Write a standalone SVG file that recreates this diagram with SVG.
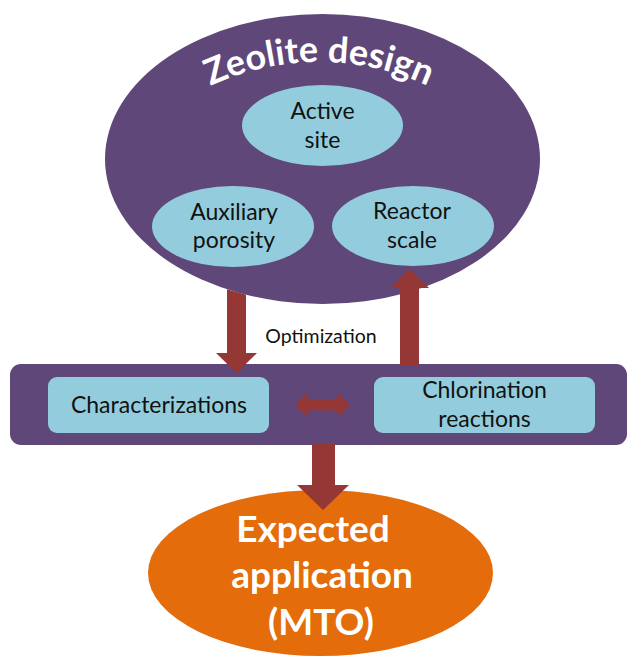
<svg xmlns="http://www.w3.org/2000/svg" width="627" height="660" viewBox="0 0 627 660">
<style>
.purple{fill:#5F4779}
.blue{fill:#93CDDD}
.arrow{fill:#953735}
.lbl{font-family:Lato,"Open Sans",sans-serif;font-size:23px;fill:#111;text-anchor:middle}
.small{font-family:Lato,"Open Sans",sans-serif;font-size:19.5px;fill:#111;text-anchor:middle}
.title{font-family:Lato,"Open Sans",sans-serif;font-weight:bold;font-size:36px;fill:#fff}
.big{font-family:Lato,"Open Sans",sans-serif;font-weight:bold;font-size:37px;fill:#fff;text-anchor:middle}
</style>
<defs>
<path id="arc" d="M 139 134.4 A 260 260 0 0 1 499 134.4"/>
</defs>
<g id="process-bar">
<rect class="purple" x="10" y="364" width="617" height="81" rx="11"/>
</g>
<g id="characterizations">
<rect class="blue" x="48" y="377" width="221" height="56" rx="9"/>
<text class="lbl" x="159" y="413">Characterizations</text>
</g>
<g id="chlorination">
<rect class="blue" x="374" y="377" width="221" height="56" rx="9"/>
<text class="lbl" x="484.5" y="398">Chlorination</text>
<text class="lbl" x="484.5" y="427">reactions</text>
</g>
<g id="application">
<ellipse cx="320.5" cy="573" rx="172.5" ry="83" fill="#E46C0A"/>
<text class="big" x="313" y="542">Expected</text>
<text class="big" x="322" y="588">application</text>
<text class="big" x="321" y="635">(MTO)</text>
</g>
<g id="zeolite-design">
<ellipse class="purple" cx="322.5" cy="159" rx="217.5" ry="145"/>
<text class="title"><textPath href="#arc" startOffset="50%" text-anchor="middle">Zeolite design</textPath></text>
</g>
<g id="active-site">
<ellipse class="blue" cx="322.5" cy="125.5" rx="80.5" ry="40.5"/>
<text class="lbl" x="322.5" y="119">Active</text>
<text class="lbl" x="322.5" y="148">site</text>
</g>
<g id="auxiliary-porosity">
<ellipse class="blue" cx="233" cy="226.5" rx="81" ry="40.5"/>
<text class="lbl" x="234" y="220">Auxiliary</text>
<text class="lbl" x="234" y="248">porosity</text>
</g>
<g id="reactor-scale">
<ellipse class="blue" cx="413" cy="226" rx="81" ry="40"/>
<text class="lbl" x="412" y="219">Reactor</text>
<text class="lbl" x="412" y="248">scale</text>
</g>
<g id="connectors">
<polygon class="arrow" points="227,289.3 246,294.7 246,353 257,353 236.5,373 216,353 227,353"/>
<polygon class="arrow" points="400,365 419,365 419,288 429,288 409.5,269 390,288 400,288"/>
<polygon class="arrow" points="295,405 308,392 308,399.5 337,399.5 337,392 350,405 337,418 337,410.5 308,410.5 308,418"/>
<polygon class="arrow" points="312,444 335,444 335,485 349,485 323,510 297,485 312,485"/>
<text class="small" x="321" y="343">Optimization</text>
</g>
</svg>
